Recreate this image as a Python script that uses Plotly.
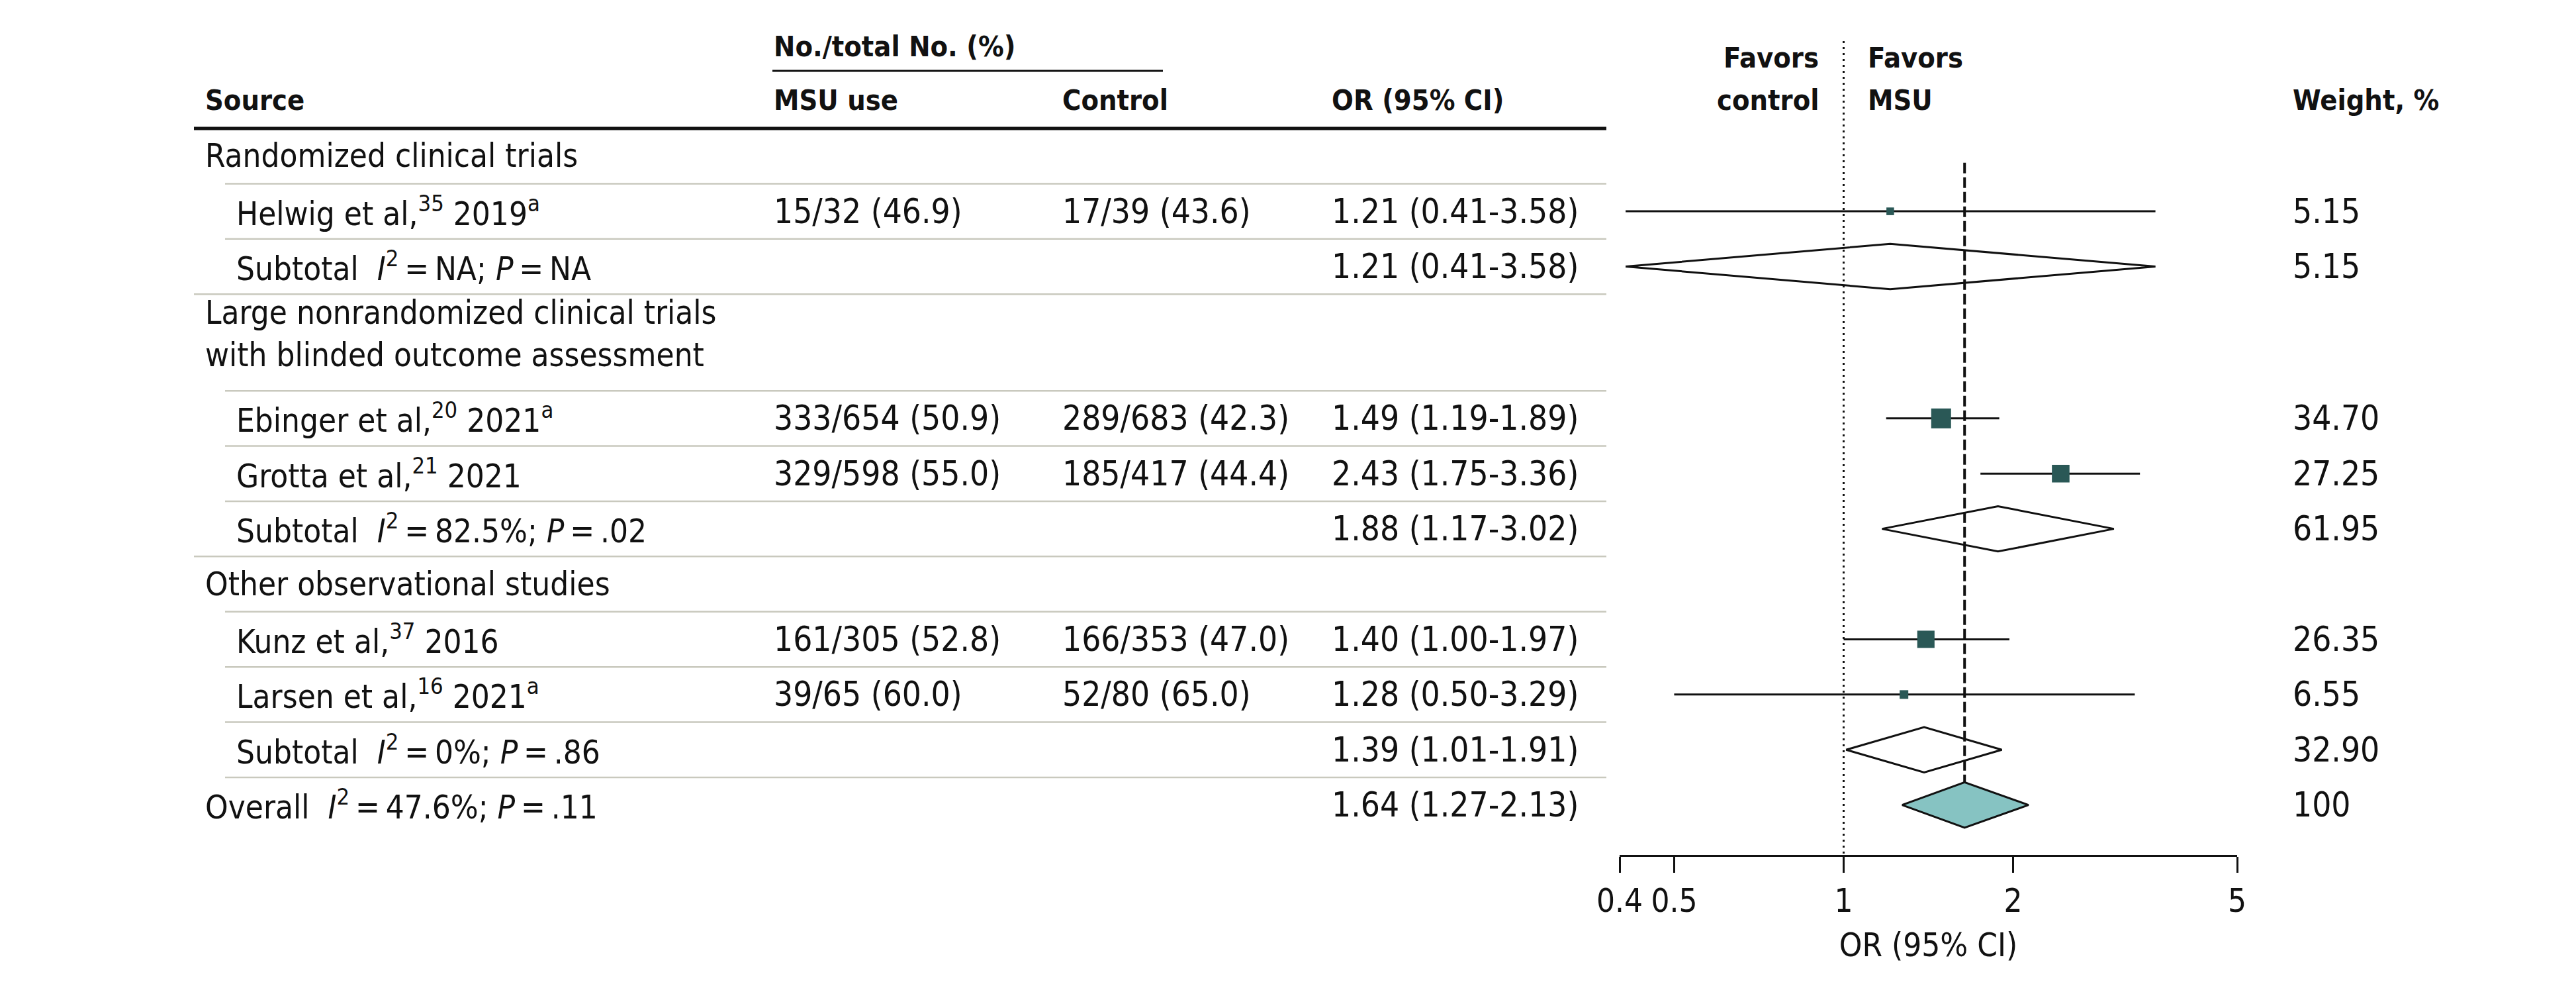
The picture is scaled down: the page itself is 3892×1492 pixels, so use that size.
import math
import plotly.graph_objects as go

W, H = 3892, 1492

# ---------------- data ----------------
group_names = [
    "Randomized clinical trials",
    "Large nonrandomized clinical trials<br>with blinded outcome assessment",
    "Other observational studies",
]
study_labels = [
    "Helwig et al,<sup>35</sup> 2019<sup>a</sup>",
    "Ebinger et al,<sup>20</sup> 2021<sup>a</sup>",
    "Grotta et al,<sup>21</sup> 2021",
    "Kunz et al,<sup>37</sup> 2016",
    "Larsen et al,<sup>16</sup> 2021<sup>a</sup>",
]
study_group = [0, 1, 1, 2, 2]
msu_events = [15, 333, 329, 161, 39]
msu_total = [32, 654, 598, 305, 65]
msu_pct = [46.9, 50.9, 55.0, 52.8, 60.0]
ctrl_events = [17, 289, 185, 166, 52]
ctrl_total = [39, 683, 417, 353, 80]
ctrl_pct = [43.6, 42.3, 44.4, 47.0, 65.0]
study_or = [1.21, 1.49, 2.43, 1.40, 1.28]
study_lo = [0.41, 1.19, 1.75, 1.00, 0.50]
study_hi = [3.58, 1.89, 3.36, 1.97, 3.29]
study_weight = [5.15, 34.70, 27.25, 26.35, 6.55]

sub_i2 = ["NA", "82.5%", "0%"]
sub_p = ["NA", ".02", ".86"]
sub_or = [1.21, 1.88, 1.39]
sub_lo = [0.41, 1.17, 1.01]
sub_hi = [3.58, 3.02, 1.91]
sub_weight = [5.15, 61.95, 32.90]

overall_i2 = "47.6%"
overall_p = ".11"
overall_or = 1.64
overall_lo = 1.27
overall_hi = 2.13
overall_weight = "100"

tick_vals = [0.4, 0.5, 1, 2, 5]
tick_text = ["0.4", "0.5", "1", "2", "5"]

# ---------------- layout constants ----------------
FONT = "DejaVu Sans Condensed, Liberation Sans Narrow, DejaVu Sans, sans-serif"
FS = 49        # regular text
FS_NUM = 51    # numeric columns
FS_B = 43      # bold headers
BLACK = "#111111"
SEP = "#c9c9be"
SQ = "#2a5856"
DIA_FILL = "#86c3c2"

ROW_H = 83.4
TOP_PX = 194
AXIS_PX = 1291


def row_of(px):
    return (px - TOP_PX) / ROW_H


def fx(px):
    return px / W


X_SRC, X_STUDY = fx(308), fx(355)
X_MSU, X_CTRL, X_OR, X_W = fx(1167), fx(1603), fx(2010), fx(3462)
L_FULL, L_IND, L_R = fx(293), fx(340), fx(2427)

NB = "\u00a0"
TH = "\u2009"

annotations = []
shapes = []


def txt(x, y, s, anchor="left", bold=False, size=FS):
    if bold:
        s = "<b>" + s + "</b>"
    annotations.append(dict(
        x=x, y=y, xref="paper", yref="y", text=s, showarrow=False,
        xanchor=anchor, yanchor="middle", align=anchor,
        font=dict(family=FONT, size=size, color=BLACK),
    ))


def sep(y, x0, color=SEP, width=2.5):
    shapes.append(dict(type="line", xref="paper", yref="y", x0=x0, x1=L_R,
                       y0=y, y1=y, line=dict(color=color, width=width)))


def fmt_or(o, lo, hi):
    return f"{o:.2f} ({lo:.2f}-{hi:.2f})"


def het(label, i2, p):
    return (f"{label}{NB}{NB}<i>I</i><sup>2</sup>{TH}={TH}{i2};{NB}"
            f"<i>P</i>{TH}={TH}{p}")


# ---------------- header ----------------
txt(X_MSU, row_of(70), "No./total No. (%)", bold=True, size=FS_B)
shapes.append(dict(type="line", xref="paper", yref="y", x0=X_MSU, x1=fx(1757),
                   y0=row_of(107), y1=row_of(107), line=dict(color=BLACK, width=3)))
txt(X_SRC, row_of(151), "Source", bold=True, size=FS_B)
txt(X_MSU, row_of(151), "MSU use", bold=True, size=FS_B)
txt(X_CTRL, row_of(151), "Control", bold=True, size=FS_B)
txt(X_OR, row_of(151), "OR (95% CI)", bold=True, size=FS_B)
txt(fx(2750), row_of(87), "Favors", anchor="right", bold=True, size=FS_B)
txt(fx(2750), row_of(151), "control", anchor="right", bold=True, size=FS_B)
txt(fx(2820), row_of(87), "Favors", bold=True, size=FS_B)
txt(fx(2820), row_of(151), "MSU", bold=True, size=FS_B)
txt(X_W, row_of(151), "Weight, %", bold=True, size=FS_B)
sep(0, L_FULL, color=BLACK, width=5)

# ---------------- rows ----------------
study_y = []
sub_y = []
y = 0.0
for g, gname in enumerate(group_names):
    two_line = "<br>" in gname
    h = 1.75 if two_line else 1.0
    txt(X_SRC, y + h / 2 - (0.155 if two_line else 0.0), gname)
    y += h
    sep(y, L_IND)
    for i in range(len(study_labels)):
        if study_group[i] != g:
            continue
        cy = y + 0.5
        study_y.append(cy)
        txt(X_STUDY, cy, study_labels[i])
        txt(X_MSU, cy, f"{msu_events[i]}/{msu_total[i]} ({msu_pct[i]:.1f})", size=FS_NUM)
        txt(X_CTRL, cy, f"{ctrl_events[i]}/{ctrl_total[i]} ({ctrl_pct[i]:.1f})", size=FS_NUM)
        txt(X_OR, cy, fmt_or(study_or[i], study_lo[i], study_hi[i]), size=FS_NUM)
        txt(X_W, cy, f"{study_weight[i]:.2f}", size=FS_NUM)
        y += 1
        sep(y, L_IND)
    cy = y + 0.5
    sub_y.append(cy)
    txt(X_STUDY, cy, het("Subtotal", sub_i2[g], sub_p[g]))
    txt(X_OR, cy, fmt_or(sub_or[g], sub_lo[g], sub_hi[g]), size=FS_NUM)
    txt(X_W, cy, f"{sub_weight[g]:.2f}", size=FS_NUM)
    y += 1
    sep(y, L_FULL if g < len(group_names) - 1 else L_IND)

overall_y = y + 0.5
txt(X_SRC, overall_y, het("Overall", overall_i2, overall_p))
txt(X_OR, overall_y, fmt_or(overall_or, overall_lo, overall_hi), size=FS_NUM)
txt(X_W, overall_y, overall_weight, size=FS_NUM)

# ---------------- forest marks ----------------
fig = go.Figure()

cx, cy_ = [], []
for lo, hi, yy in zip(study_lo, study_hi, study_y):
    cx += [lo, hi, None]
    cy_ += [yy, yy, None]
fig.add_trace(go.Scatter(x=cx, y=cy_, mode="lines",
                         line=dict(color=BLACK, width=3), hoverinfo="skip"))

ref_w = max(study_weight)
sizes = [30 * math.sqrt(w / ref_w) for w in study_weight]
fig.add_trace(go.Scatter(x=study_or, y=study_y, mode="markers",
                         marker=dict(symbol="square", size=sizes, color=SQ, opacity=1,
                                     line=dict(width=0))))

DH = 0.41
for o, lo, hi, yy in zip(sub_or, sub_lo, sub_hi, sub_y):
    fig.add_trace(go.Scatter(x=[lo, o, hi, o, lo], y=[yy, yy - DH, yy, yy + DH, yy],
                             mode="lines", fill="toself", fillcolor="white",
                             line=dict(color=BLACK, width=3)))
fig.add_trace(go.Scatter(x=[overall_lo, overall_or, overall_hi, overall_or, overall_lo],
                         y=[overall_y, overall_y - DH, overall_y, overall_y + DH, overall_y],
                         mode="lines", fill="toself", fillcolor=DIA_FILL,
                         line=dict(color=BLACK, width=3)))

y_bottom = row_of(AXIS_PX)
y_top = row_of(0)

# reference lines
shapes.append(dict(type="line", xref="x", yref="y", x0=1, x1=1,
                   y0=row_of(62), y1=y_bottom,
                   line=dict(color=BLACK, width=3, dash="3px,6px")))
shapes.append(dict(type="line", xref="x", yref="y", x0=overall_or, x1=overall_or,
                   y0=0.62, y1=overall_y - DH,
                   line=dict(color=BLACK, width=4, dash="16px,6px")))

fig.update_layout(
    template="none",
    width=W, height=H,
    autosize=False,
    margin=dict(l=0, r=0, t=0, b=0, pad=0, autoexpand=False),
    paper_bgcolor="white", plot_bgcolor="white",
    showlegend=False,
    annotations=annotations,
    shapes=shapes,
    xaxis=dict(
        type="log", domain=[fx(2447), fx(3380)],
        range=[math.log10(tick_vals[0]), math.log10(tick_vals[-1])],
        tickvals=tick_vals, ticktext=tick_text,
        ticks="outside", ticklen=24, tickwidth=2.5, tickcolor=BLACK,
        showline=True, linewidth=3, linecolor=BLACK,
        showgrid=False, zeroline=False, automargin=False,
        tickfont=dict(family=FONT, size=FS, color=BLACK),
        title=dict(text="OR (95% CI)", font=dict(family=FONT, size=FS, color=BLACK),
                   standoff=22),
        fixedrange=True,
    ),
    yaxis=dict(
        domain=[1 - AXIS_PX / H, 1],
        range=[y_bottom, y_top],
        visible=False, showgrid=False, zeroline=False, automargin=False,
        fixedrange=True,
    ),
)

fig.write_html(
    "out.html",
    config={"displayModeBar": False, "staticPlot": False},
    post_script="document.body.style.margin='0';document.body.style.overflow='hidden';",
)
